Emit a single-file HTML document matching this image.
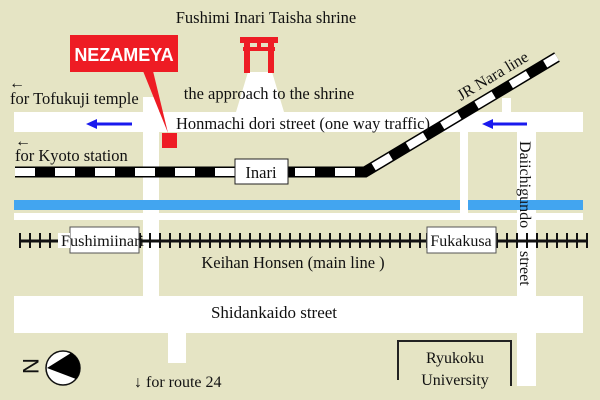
<!DOCTYPE html>
<html><head><meta charset="utf-8"><style>
html,body{margin:0;padding:0;background:#e5e4c4;}
svg{display:block}
text{font-family:"Liberation Serif",serif;fill:#111;}
</style></head><body>
<svg width="600" height="400" viewBox="0 0 600 400" xmlns="http://www.w3.org/2000/svg">
<rect width="600" height="400" fill="#e5e4c4"/>
<!-- roads -->
<rect x="143" y="97" width="16" height="200" fill="#fff"/>
<rect x="14" y="112" width="569" height="20" fill="#fff"/>
<polygon points="248,72 272,72 284,112 236,112" fill="#fff"/>
<rect x="502" y="98" width="9" height="16" fill="#fff"/>
<rect x="460" y="130" width="8" height="84" fill="#fff"/>
<rect x="517" y="130" width="19" height="256" fill="#fff"/>
<rect x="14" y="200" width="569" height="10" fill="#42a5f0"/>
<rect x="460" y="199" width="8" height="13" fill="#fff"/>
<rect x="14" y="213" width="569" height="7" fill="#fff"/>
<rect x="14" y="296" width="569" height="37" fill="#fff"/>
<rect x="168" y="332" width="18" height="31" fill="#fff"/>
<!-- blue arrows -->
<g stroke="#1a1aee" stroke-width="3" fill="#1a1aee">
<line x1="95" y1="124" x2="132" y2="124"/><polygon points="86,124 97,119 97,129" stroke="none"/>
<line x1="491" y1="124" x2="527" y2="124"/><polygon points="482,124 493,119 493,129" stroke="none"/>
</g>
<!-- JR line -->
<path d="M15,172 L365,172 L557,57" fill="none" stroke="#000" stroke-width="11" stroke-linejoin="miter"/>
<path d="M15,172 L365,172 L557,57" fill="none" stroke="#fff" stroke-width="8" stroke-dasharray="20 20"/>
<rect x="235" y="159" width="53" height="25" fill="#fff" stroke="#222" stroke-width="1"/>
<text x="261" y="178" font-size="16.5" text-anchor="middle">Inari</text>
<text transform="translate(461,101) rotate(-31)" font-size="16">JR Nara line</text>
<!-- Keihan line -->
<line x1="19" y1="241" x2="587" y2="241" stroke="#111" stroke-width="3"/>
<g stroke="#111" stroke-width="2">
<path d="M20,233v15M30,233v15M40,233v15M50,233v15M60,233v15M140,233v15M150,233v15M160,233v15M170,233v15M180,233v15M190,233v15M200,233v15M210,233v15M220,233v15M230,233v15M240,233v15M250,233v15M260,233v15M270,233v15M280,233v15M290,233v15M300,233v15M310,233v15M320,233v15M330,233v15M340,233v15M350,233v15M360,233v15M370,233v15M380,233v15M390,233v15M400,233v15M410,233v15M420,233v15M427,233v15M497,233v15M507,233v15M517,233v15M527,233v15M537,233v15M547,233v15M557,233v15M567,233v15M577,233v15M587,233v15"/>
</g>
<rect x="70" y="227" width="69" height="26" fill="#fff" stroke="#555" stroke-width="1"/>
<rect x="58" y="233" width="12" height="15" fill="#fff"/>
<text x="61" y="246" font-size="15.5" textLength="83" lengthAdjust="spacingAndGlyphs">Fushimiinari</text>
<rect x="427" y="227" width="69" height="26" fill="#fff" stroke="#555" stroke-width="1"/>
<text x="461" y="246" font-size="16" text-anchor="middle">Fukakusa</text>
<text x="293" y="268" font-size="16.5" text-anchor="middle">Keihan Honsen (main line )</text>
<text x="274" y="318" font-size="17" text-anchor="middle">Shidankaido street</text>
<text transform="translate(520,141) rotate(90)" font-size="16">Daiichigundo</text>
<text transform="translate(520,251) rotate(90)" font-size="16">street</text>
<!-- torii -->
<g fill="#ee1c24">
<rect x="240" y="37" width="38" height="6"/>
<rect x="243" y="47" width="32" height="4"/>
<rect x="244" y="42" width="6" height="31"/>
<rect x="268" y="42" width="6" height="31"/>
<rect x="257" y="42" width="4" height="8"/>
</g>
<!-- NEZAMEYA -->
<rect x="70" y="35" width="108" height="37" fill="#ee1c24"/>
<polygon points="143,71 153,71 168,133" fill="#ee1c24"/>
<rect x="162" y="133" width="15" height="15" fill="#ee1c24"/>
<text x="124" y="61" font-size="18" font-weight="bold" text-anchor="middle" style="font-family:'Liberation Sans',sans-serif;fill:#fff">NEZAMEYA</text>
<!-- labels -->
<text x="266" y="23" font-size="16.5" text-anchor="middle">Fushimi Inari Taisha shrine</text>
<text x="269" y="99" font-size="16.5" text-anchor="middle">the approach to the shrine</text>
<text x="303" y="129" font-size="16.5" text-anchor="middle">Honmachi dori street (one way traffic)</text>
<text x="9" y="88" font-size="16">←</text>
<text x="10" y="104" font-size="16.5">for Tofukuji temple</text>
<text x="15" y="146" font-size="16">←</text>
<text x="15" y="161" font-size="16.5">for Kyoto station</text>
<text x="134" y="387" font-size="16">↓ for route 24</text>
<!-- Ryukoku -->
<path d="M398,380 V341 H511 V386" fill="none" stroke="#222" stroke-width="2"/>
<text x="455" y="363" font-size="16" text-anchor="middle">Ryukoku</text>
<text x="455" y="385" font-size="16" text-anchor="middle">University</text>
<!-- compass -->
<circle cx="63" cy="368" r="17" fill="#fff" stroke="#111" stroke-width="1.5"/>
<path d="M47,368 L71,353 A17,17 0 0 1 76,379 Z" fill="#000"/>
<text transform="translate(23,366) rotate(90)" font-size="22" text-anchor="middle" style="font-family:'Liberation Sans',sans-serif">N</text>
</svg>
</body></html>
